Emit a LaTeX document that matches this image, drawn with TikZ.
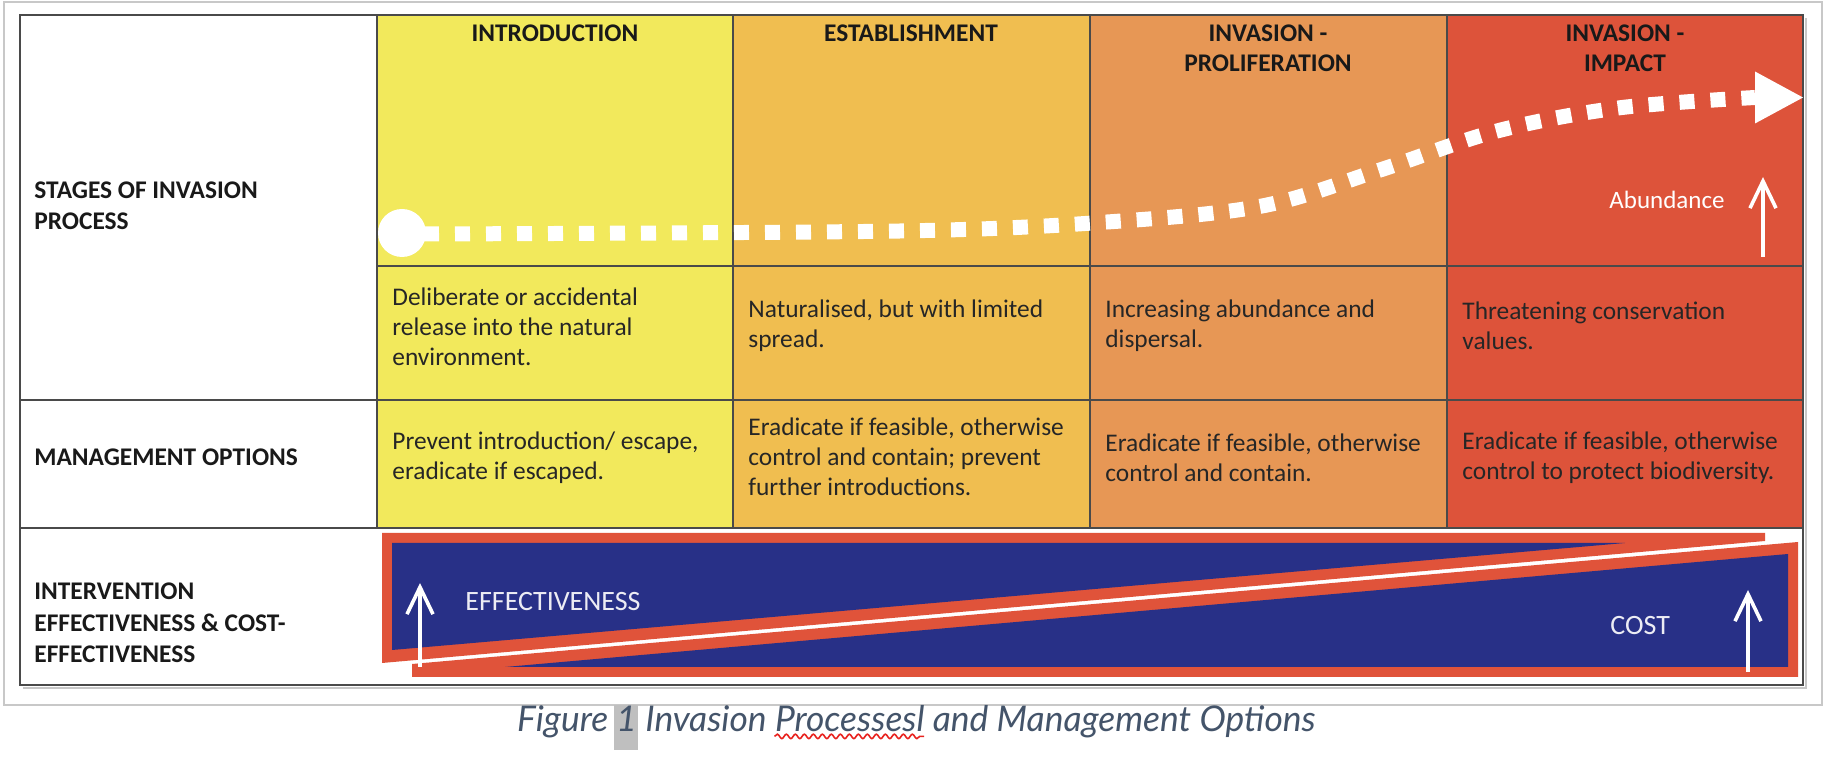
\documentclass[tikz,border=0pt]{standalone}
\usepackage{fontspec}
\setmainfont{Carlito}
\newfontfamily\capfont{Lato}
\usetikzlibrary{arrows.meta,decorations.pathmorphing,calc}

\definecolor{cIntro}{HTML}{F2E95C}
\definecolor{cEstab}{HTML}{F0BE50}
\definecolor{cProlif}{HTML}{E79755}
\definecolor{cImpact}{HTML}{DD533A}
\definecolor{navy}{HTML}{283087}
\definecolor{redband}{HTML}{E0533A}
\definecolor{gridline}{HTML}{4A4A4A}
\definecolor{pageframe}{HTML}{C8C8C8}
\definecolor{captext}{HTML}{44546A}
\definecolor{hilite}{HTML}{BFBFBF}
\definecolor{softwhite}{HTML}{ECECF4}
\definecolor{spellred}{HTML}{E8231F}

% caption metrics, measured once the fonts are ready
\newlength\capWa
\newlength\capWb
\newlength\capWc
\newlength\capWd
\newlength\capWt
\newcommand\capstyle{\capfont\itshape\fontsize{17.7pt}{20pt}\selectfont}
\AtBeginDocument{%
  \settowidth{\capWa}{\capstyle Figure }%
  \settowidth{\capWb}{\capstyle Figure 1}%
  \settowidth{\capWc}{\capstyle Figure 1 Invasion }%
  \settowidth{\capWd}{\capstyle Figure 1 Invasion Processesl}%
  \settowidth{\capWt}{\capstyle Figure 1 Invasion Processesl and Management Options}%
}

\begin{document}
\begin{tikzpicture}[x=0.5pt,y=-0.5pt,
  celltxt/.style={font=\fontsize{12.7pt}{15pt}\selectfont, inner sep=0pt, align=left, anchor=west, text=black!85},
  headtxt/.style={font=\bfseries\fontsize{12.7pt}{15pt}\selectfont, inner sep=0pt, align=center, text=black!90},
  rowlabel/.style={font=\bfseries\fontsize{12.7pt}{15.75pt}\selectfont, inner sep=0pt, align=left, anchor=west, text=black!90},
  gridrule/.style={draw=gridline, line width=1.1pt},
  whitearrow/.style={draw=white, line width=1.8pt, -{Straight Barb[length=13.5pt,width=13pt]}},
  graphtxt/.style={font=\fontsize{14pt}{16pt}\selectfont, inner sep=0pt, text=softwhite},
]
\useasboundingbox (0,0) rectangle (1828,780);
\fill[white] (0,0) rectangle (1828,780);

% page frame around the table
\draw[pageframe, line width=1pt] (4,2) rectangle (1822,705);

% coloured stage columns
\fill[cIntro]  (377,15)  rectangle (733,528);
\fill[cEstab]  (733,15)  rectangle (1090,528);
\fill[cProlif] (1090,15) rectangle (1447,528);
\fill[cImpact] (1447,15) rectangle (1803,528);

% soft shadow of the table
\draw[black!22, line width=1.2pt] (23,688) -- (1806,688) -- (1806,18);

% table rules
\draw[gridrule] (20,15) rectangle (1803,685);
\foreach \cx in {377,733,1090,1447} \draw[gridrule] (\cx,15) -- (\cx,528);
\draw[gridrule] (377,266) -- (1803,266);
\draw[gridrule] (20,400) -- (1803,400);
\draw[gridrule] (20,528) -- (1803,528);

% row labels
\node[rowlabel] (lblStages) at (34,206) {STAGES OF INVASION\\PROCESS};
\node[rowlabel] (lblMgmt)   at (34,457) {MANAGEMENT OPTIONS};
\node[rowlabel] (lblInterv) at (34,623) {INTERVENTION\\EFFECTIVENESS \& COST-\\EFFECTIVENESS};

% stage headers
\node[headtxt] (hIntro)  at (555,33)  {INTRODUCTION};
\node[headtxt] (hEstab)  at (911,33)  {ESTABLISHMENT};
\node[headtxt] (hProlif) at (1268,48) {INVASION -\\PROLIFERATION};
\node[headtxt] (hImpact) at (1625,48) {INVASION -\\IMPACT};

% stage descriptions
\node[celltxt] (dIntro)  at (392,327)  {Deliberate or accidental\\release into the natural\\environment.};
\node[celltxt] (dEstab)  at (748,326)  {Naturalised, but with limited\\spread.};
\node[celltxt] (dProlif) at (1105,326) {Increasing abundance and\\dispersal.};
\node[celltxt] (dImpact) at (1462,326) {Threatening conservation\\values.};

% management options
\node[celltxt] (mIntro)  at (392,458)  {Prevent introduction/ escape,\\eradicate if escaped.};
\node[celltxt] (mEstab)  at (748,457)  {Eradicate if feasible, otherwise\\control and contain; prevent\\further introductions.};
\node[celltxt] (mProlif) at (1105,458) {Eradicate if feasible, otherwise\\control and contain.};
\node[celltxt] (mImpact) at (1462,458) {Eradicate if feasible, otherwise\\control to protect biodiversity.};

% invasion curve: start disc, dashed path, arrowhead
\begin{scope}
  \clip (377,15) rectangle (1803,266);
  \fill[white] (402,233) circle (24);
\end{scope}
\coordinate (curveStart) at (424,234);
\coordinate (curveEnd) at (1755,97.5);
\coordinate (curveTip) at (1803,97.5);
\draw[white, line width=7.5pt, dash pattern=on 7.5pt off 8pt]
  plot[smooth, tension=0.55] coordinates {(curveStart) (900,231) (1107,222) (1262,206) (1380,170) (1497,131) (1618,108) (curveEnd)};
\fill[white] ([yshift=13pt]curveEnd) -- (curveTip) -- ([yshift=-13pt]curveEnd) -- cycle;

% abundance indicator
\node[font=\fontsize{12.5pt}{14pt}\selectfont, inner sep=0pt, text=white] (abund) at (1667,200) {Abundance};
\coordinate (abBot) at (1763,257);
\coordinate (abTop) at (1763,177);
\draw[whitearrow] (abBot) -- (abTop);

% effectiveness wedge
\fill[redband] (382,533) -- (1765,533) -- (1765,541) -- (382,663) -- cycle;
\fill[navy] (392,543) -- (1625,543) -- (392,650) -- cycle;
% cost wedge
\fill[redband] (412,664) -- (1798,542) -- (1798,677) -- (412,677) -- cycle;
\fill[navy] (505,667) -- (1788,554) -- (1788,667) -- cycle;

\node[graphtxt, anchor=west] (effTxt) at (465,602) {EFFECTIVENESS};
\node[graphtxt, anchor=west] (costTxt) at (1610,626) {COST};
\coordinate (effBot) at (420,667);
\coordinate (effTop) at (420,583);
\draw[whitearrow] (effBot) -- (effTop);
\coordinate (costBot) at (1748,672);
\coordinate (costTop) at (1748,590);
\draw[whitearrow] (costBot) -- (costTop);

% caption with field shading and spelling mark
\coordinate (capL) at ([xshift=-0.5\capWt]916,732);
\fill[hilite] ([xshift=\capWa-0.8pt, yshift=13.5pt]capL) rectangle ([xshift=\capWb+0.8pt, yshift=-9pt]capL);
\node[anchor=base west, inner sep=0pt, text=captext, font=\capstyle] (caption) at (capL)
  {Figure 1 Invasion Processesl and Management Options};
\draw[spellred, line width=0.8pt, decorate, decoration={snake, amplitude=1.1pt, segment length=4.5pt}]
  ([xshift=\capWc, yshift=-2.2pt]capL) -- ([xshift=\capWd, yshift=-2.2pt]capL);
\end{tikzpicture}
\end{document}
